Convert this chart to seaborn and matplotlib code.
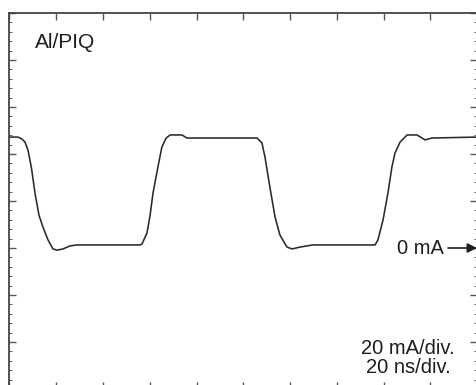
import matplotlib
matplotlib.use("Agg")
import matplotlib.pyplot as plt
from matplotlib.ticker import MultipleLocator
import seaborn as sns
import pandas as pd

# Oscilloscope trace: time (ns) and current (mA)
time_ns = [0, 3.6, 5.3, 6.6, 7.9, 9.4, 10.9, 12.6, 14.3, 16.5, 18.6, 20.3, 22.9, 25.9,
           28.9, 43.0, 55.8, 56.7, 58.8, 60.1, 61.4, 63.5, 65.2, 67.0, 68.7, 73.8,
           75.9, 90.1, 105.9, 108.0, 109.3, 111.4, 113.6, 115.7, 118.7, 120.9, 124.3,
           129.8, 143.0, 156.4, 157.6, 159.8, 161.9, 163.6, 164.9, 167.1, 170.1,
           174.3, 177.8, 180.7, 200.0]
current_ma = [47.2, 47.2, 46.4, 45.1, 41.7, 34.0, 23.4, 14.0, 8.9, 3.4, -0.4, -0.9, -0.4, 0.9,
              1.3, 1.3, 1.3, 1.7, 6.4, 13.6, 23.4, 34.5, 43.0, 46.8, 48.1, 48.1,
              46.8, 46.8, 46.8, 44.7, 38.7, 25.9, 13.2, 5.5, 0.4, -0.4, 0.4,
              1.3, 1.3, 1.3, 3.4, 11.9, 23.4, 34.5, 40.4, 45.1, 48.1,
              48.1, 46.0, 46.8, 47.2]

sample_label = "Al/PIQ"
zero_label = "0 mA"
scale_label = "20 mA/div.\n20 ns/div."

df = pd.DataFrame({"t": time_ns, "i": current_ma})

sns.set_theme(style="white")
plt.rcParams["font.family"] = ["Liberation Sans", "DejaVu Sans"]

fig = plt.figure(figsize=(4.77, 3.85), dpi=100)
fig.patch.set_facecolor("white")
ax = fig.add_axes([9.5 / 477, -4 / 385, 467.5 / 477, 376 / 385])
ax.set_facecolor("white")

sns.lineplot(data=df, x="t", y="i", ax=ax, sort=False, estimator=None,
             color="#2a2a2a", linewidth=1.15)

ax.set_xlim(0, 200)
ax.set_ylim(-60, 100)
ax.set_xlabel("")
ax.set_ylabel("")
ax.xaxis.set_major_locator(MultipleLocator(20))
ax.yaxis.set_major_locator(MultipleLocator(20))
ax.yaxis.set_minor_locator(MultipleLocator(4))
ax.tick_params(which="both", direction="in", top=True, right=True, bottom=True, left=True,
               labelbottom=False, labelleft=False, color="#555555")
ax.tick_params(which="major", length=5, width=1.0)
ax.tick_params(which="minor", length=2, width=0.7)
for name, sp in ax.spines.items():
    sp.set_color("#444444")
    sp.set_linewidth(1.3)
ax.spines["right"].set_visible(False)

ax.text(10.9, 85.1, sample_label, fontsize=15, color="#1e1e1e", ha="left", va="baseline")
ax.text(185.9, -2.6, zero_label, fontsize=14.5, color="#1e1e1e", ha="right", va="baseline")
ax.annotate("", xy=(200, 0), xytext=(187.6, 0),
            arrowprops=dict(arrowstyle="-|>", color="#1e1e1e", lw=1.2,
                            mutation_scale=14, shrinkA=0, shrinkB=0))
ax.text(170.5, -53.2, scale_label, fontsize=14.5, color="#1e1e1e", ha="center",
        va="baseline", multialignment="center", linespacing=1.0)

fig.savefig("out.png", dpi=100, facecolor="white")
